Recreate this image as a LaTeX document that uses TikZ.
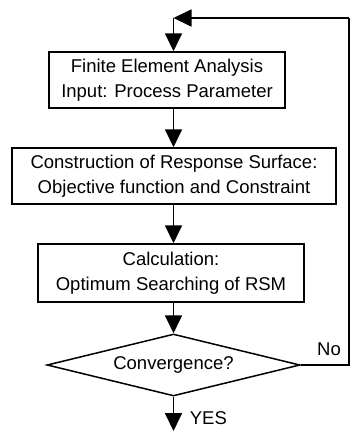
\documentclass[tikz,border=0pt]{standalone}
\usepackage{fontspec}
\setmainfont{Liberation Sans}
\usetikzlibrary{shapes.geometric, arrows.meta}
\tikzset{
    flowbox/.style={draw, line width=1.5pt, align=center, inner sep=0pt,
        font=\fontsize{18.5}{25}\selectfont},
    decision/.style={draw, diamond, aspect=4, line width=1.5pt, inner sep=0pt,
        minimum width=253pt, minimum height=62pt,
        font=\fontsize{18.5}{25}\selectfont},
    flowline/.style={-{Triangle[length=18pt, width=17pt]}, line width=1.8pt},
    tag/.style={inner sep=0pt, font=\fontsize{18.5}{25}\selectfont}
}

\begin{document}
\begin{tikzpicture}[x=1pt, y=-1pt]
    \useasboundingbox (0, 0) rectangle (351, 432);

    \node [flowbox, minimum width=236pt, minimum height=56pt] (fea) at (167, 80)
        {Finite Element Analysis\\Input: Process Parameter};
    \node [flowbox, minimum width=324pt, minimum height=56pt] (rsm) at (174, 176)
        {Construction of Response Surface:\\Objective function and Constraint};
    \node [flowbox, minimum width=266pt, minimum height=58pt] (calc) at (171, 273)
        {Calculation:\\Optimum Searching of RSM};
    \node [decision] (conv) at (173.5, 365) {Convergence?};

    \coordinate (loop) at (173.5, 18);
    \coordinate (top) at (349, 18);
    \coordinate (corner) at (349, 365);
    \coordinate (yesend) at (173.5, 431);

    \draw [flowline] (fea.south -| conv.north) -- (rsm.north -| conv.north);
    \draw [flowline] (rsm.south -| conv.north) -- (calc.north -| conv.north);
    \draw [flowline] (calc.south -| conv.north) -- (conv.north);
    \draw [flowline] (conv.south) -- (yesend)
        node [tag, right] (yes) at (189, 418) {YES};

    \draw [line width=1.5pt] (conv.east) -- (corner) -- (top);
    \node [tag] (no) at (329, 349) {No};
    \draw [flowline] (top) -- (loop);
    \draw [flowline] (loop) -- (fea.north -| loop);
\end{tikzpicture}
\end{document}
